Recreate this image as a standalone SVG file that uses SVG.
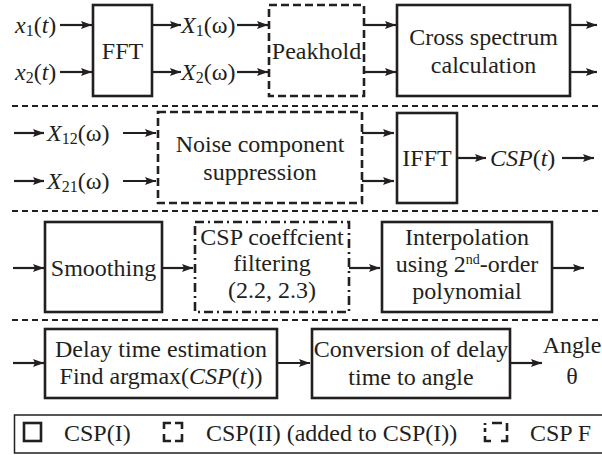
<svg xmlns="http://www.w3.org/2000/svg" width="602" height="455" viewBox="0 0 602 455" font-family="'Liberation Serif', Tinos, 'Times New Roman', Times, serif">
<defs>
<marker id="ah" markerUnits="userSpaceOnUse" markerWidth="12" markerHeight="10" refX="11" refY="4" orient="auto">
<path d="M0,0 L11,4 L0,8 L2,4 Z" fill="#231f20"/>
</marker>
</defs>
<style>
text{font-family:'Liberation Serif',Tinos,'Times New Roman',Times,serif;font-size:24px;fill:#231f20}
.m{text-anchor:middle}
.i{font-style:italic}
.sub{font-size:16px}
.box{fill:none;stroke:#231f20;stroke-width:2.6}
.dash{stroke-dasharray:8 4}
.dd{stroke-dasharray:9 4 2 4}
.sep{fill:none;stroke:#231f20;stroke-width:2.2;stroke-dasharray:6 4}
.ar{fill:none;stroke:#231f20;stroke-width:2.2;marker-end:url(#ah)}
</style>
<rect width="602" height="455" fill="#fff"/>

<g id="separators">
<line class="sep" x1="12" y1="106" x2="598" y2="106"/>
<line class="sep" x1="12" y1="211" x2="598" y2="211"/>
<line class="sep" x1="12" y1="320" x2="598" y2="320"/>
</g>

<g id="connectors">
<line class="ar" x1="60" y1="25" x2="92" y2="25"/>
<line class="ar" x1="60" y1="72" x2="92" y2="72"/>
<line class="ar" x1="152" y1="25" x2="181" y2="25"/>
<line class="ar" x1="152" y1="72" x2="181" y2="72"/>
<line class="ar" x1="237" y1="25" x2="268" y2="25"/>
<line class="ar" x1="237" y1="72" x2="268" y2="72"/>
<line class="ar" x1="364" y1="25" x2="396" y2="25"/>
<line class="ar" x1="364" y1="72" x2="396" y2="72"/>
<line class="ar" x1="570" y1="25" x2="597" y2="25"/>
<line class="ar" x1="570" y1="72" x2="597" y2="72"/>

<line class="ar" x1="14" y1="133" x2="44" y2="133"/>
<line class="ar" x1="14" y1="181" x2="44" y2="181"/>
<line class="ar" x1="123" y1="133" x2="156" y2="133"/>
<line class="ar" x1="123" y1="181" x2="156" y2="181"/>
<line class="ar" x1="362" y1="133" x2="394" y2="133"/>
<line class="ar" x1="362" y1="181" x2="394" y2="181"/>
<line class="ar" x1="457" y1="158" x2="486" y2="158"/>
<line class="ar" x1="562" y1="158" x2="594" y2="158"/>

<line class="ar" x1="13" y1="268" x2="44" y2="268"/>
<line class="ar" x1="162" y1="268" x2="193" y2="268"/>
<line class="ar" x1="349" y1="268" x2="380" y2="268"/>
<line class="ar" x1="552" y1="268" x2="584" y2="268"/>

<line class="ar" x1="13" y1="363" x2="44" y2="363"/>
<line class="ar" x1="277" y1="363" x2="310" y2="363"/>
<line class="ar" x1="510" y1="363" x2="542" y2="363"/>
</g>

<g id="labels">
<text x="15" y="33"><tspan class="i">x</tspan><tspan class="sub" dy="3">1</tspan><tspan dy="-3">(</tspan><tspan class="i">t</tspan>)</text>
<text x="15" y="80"><tspan class="i">x</tspan><tspan class="sub" dy="3">2</tspan><tspan dy="-3">(</tspan><tspan class="i">t</tspan>)</text>
<text x="181" y="33"><tspan class="i">X</tspan><tspan class="sub" dy="3">1</tspan><tspan dy="-3">(ω)</tspan></text>
<text x="181" y="80"><tspan class="i">X</tspan><tspan class="sub" dy="3">2</tspan><tspan dy="-3">(ω)</tspan></text>
<text x="47" y="141"><tspan class="i">X</tspan><tspan class="sub" dy="3">12</tspan><tspan dy="-3">(ω)</tspan></text>
<text x="47" y="189"><tspan class="i">X</tspan><tspan class="sub" dy="3">21</tspan><tspan dy="-3">(ω)</tspan></text>
<text x="490" y="166"><tspan class="i">CSP</tspan>(<tspan class="i">t</tspan>)</text>
<text class="m" x="572" y="353">Angle</text>
<text class="m" x="572" y="384">θ</text>
</g>

<g id="fft">
<rect class="box" x="93" y="5" width="59" height="91"/>
<text class="m" x="122.5" y="59">FFT</text>
</g>
<g id="peakhold">
<rect class="box dash" x="269" y="5" width="95" height="91"/>
<text class="m" x="316.5" y="59">Peakhold</text>
</g>
<g id="cross">
<rect class="box" x="397" y="5" width="173" height="91"/>
<text class="m" x="483.5" y="45">Cross spectrum</text>
<text class="m" x="483.5" y="73">calculation</text>
</g>

<g id="noise">
<rect class="box dash" x="158" y="112" width="204" height="91"/>
<text class="m" x="260" y="152">Noise component</text>
<text class="m" x="260" y="180">suppression</text>
</g>
<g id="ifft">
<rect class="box" x="397" y="113" width="60" height="90"/>
<text class="m" x="427" y="166">IFFT</text>
</g>

<g id="smoothing">
<rect class="box" x="45" y="222" width="117" height="90"/>
<text class="m" x="103.5" y="276">Smoothing</text>
</g>
<g id="cspfilter">
<rect class="box dd" x="195" y="222" width="154" height="90"/>
<text class="m" x="272" y="245">CSP coeffcient</text>
<text class="m" x="272" y="271">filtering</text>
<text class="m" x="272" y="298">(2.2, 2.3)</text>
</g>
<g id="interp">
<rect class="box" x="382" y="222" width="170" height="90"/>
<text class="m" x="467" y="245">Interpolation</text>
<text class="m" x="467" y="272">using 2<tspan font-size="14" dy="-8">nd</tspan><tspan dy="8">-order</tspan></text>
<text class="m" x="467" y="299">polynomial</text>
</g>

<g id="delay">
<rect class="box" x="45" y="329" width="232" height="69"/>
<text class="m" x="161" y="357">Delay time estimation</text>
<text class="m" x="161" y="384">Find argmax(<tspan class="i">CSP</tspan>(<tspan class="i">t</tspan>))</text>
</g>
<g id="conversion">
<rect class="box" x="312" y="329" width="198" height="69"/>
<text class="m" x="411" y="357">Conversion of delay</text>
<text class="m" x="411" y="385">time to angle</text>
</g>

<g id="legend">
<path d="M610,415 H14.5 V453 H610" fill="none" stroke="#231f20" stroke-width="1.5"/>
<rect class="box" x="24" y="423" width="17" height="18"/>
<text x="64" y="441">CSP(I)</text>
<path class="box" d="M164,429 V423 H171 M175,423 H182 V429 M182,434 V441 H175 M171,441 H164 V434"/>
<text x="206" y="441">CSP(II) (added to CSP(I))</text>
<path class="box" d="M485,428 V432 M485,436 V441 H491 M485,423 V425 M492,423 H502 M507,423 V431 M507,435 V441 H501"/>
<text x="530" y="441">CSP F</text>
</g>
</svg>
